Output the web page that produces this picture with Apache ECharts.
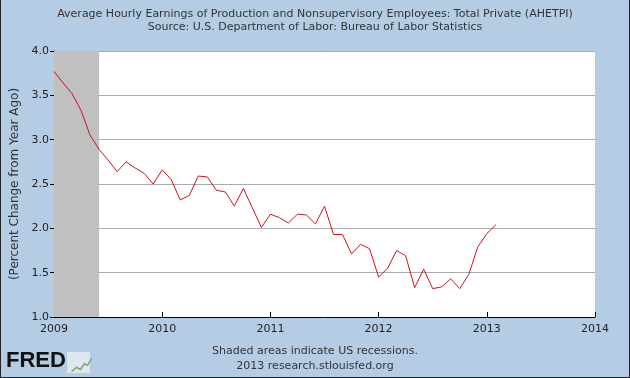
<!DOCTYPE html>
<html style="height: 100%">
<head>
    <meta charset="utf-8">
    <script src="https://cdn.jsdelivr.net/npm/echarts@6/dist/echarts.min.js"></script>
    <title>AHETPI</title>
</head>
<body style="height: 100%; margin: 0">
<div style="position: relative; width: 630px; height: 378px">
    <div id="container" style="width: 630px; height: 378px; background-color: #b5cde4"></div>
    <div style="position: absolute; left: 0; top: 0; width: 630px; height: 378px; box-sizing: border-box; border: 1px solid #222; border-top: none; pointer-events: none"></div>
</div>
<script type="text/javascript">

    // monthly values, Jan 2009 .. Feb 2013 (percent change from year ago)
    let startYear = 2009
    let values2009 = [3.77, 3.64, 3.52, 3.33, 3.05, 2.89, 2.77, 2.64, 2.75, 2.68, 2.62, 2.50]
    let values2010 = [2.66, 2.55, 2.32, 2.37, 2.59, 2.58, 2.43, 2.41, 2.25, 2.45, 2.23, 2.01]
    let values2011 = [2.16, 2.12, 2.06, 2.16, 2.15, 2.05, 2.25, 1.93, 1.93, 1.71, 1.82, 1.77]
    let values2012 = [1.45, 1.55, 1.75, 1.69, 1.33, 1.54, 1.32, 1.34, 1.43, 1.32, 1.48, 1.79]
    let values2013 = [1.94, 2.04]
    // recession: Jan 2009 .. Jun 2009
    let recessionStart = 2009
    let recessionEnd = 2009 + 5 / 12

    let allValues = [].concat(values2009, values2010, values2011, values2012, values2013)
    let lineData = allValues.map((v, i) => [startYear + i / 12, v])

    let dom = document.getElementById("container")
    let chart = echarts.init(dom)
    let font = "DejaVu Sans, Verdana, sans-serif"
    chart.setOption({
        backgroundColor: "#b5cde4",
        animation: false,
        title: {
            text: "Average Hourly Earnings of Production and Nonsupervisory Employees: Total Private (AHETPI)",
            subtext: "Source: U.S. Department of Labor: Bureau of Labor Statistics",
            left: "center",
            top: 4,
            itemGap: 2,
            textStyle: {fontFamily: font, fontSize: 11, fontWeight: "normal", color: "#333"},
            subtextStyle: {fontFamily: font, fontSize: 11, color: "#333"}
        },
        grid: {
            left: 54, right: 35, top: 51, bottom: 61,
            outerBoundsMode: "none", containLabel: false,
            backgroundColor: "#fff", show: true, borderWidth: 0
        },
        xAxis: {
            type: "value",
            min: 2009,
            max: 2014,
            interval: 1,
            axisLine: {lineStyle: {color: "#000", width: 1}},
            axisTick: {inside: true, length: 5, lineStyle: {color: "#000"}},
            axisLabel: {fontFamily: font, fontSize: 11, color: "#222", margin: 7, formatter: v => String(v)},
            splitLine: {show: false}
        },
        yAxis: {
            type: "value",
            min: 1,
            max: 4,
            interval: 0.5,
            name: "(Percent Change from Year Ago)",
            nameLocation: "middle",
            nameGap: 31,
            nameTextStyle: {fontFamily: font, fontSize: 12, color: "#333"},
            axisLine: {show: true, lineStyle: {color: "#000", width: 1}},
            axisTick: {show: true, length: 4, lineStyle: {color: "#000"}},
            axisLabel: {fontFamily: font, fontSize: 11, color: "#222", margin: 5, formatter: v => v.toFixed(1)},
            splitLine: {lineStyle: {color: "#aaa", width: 1}}
        },
        series: [{
            type: "line",
            data: lineData,
            symbol: "none",
            lineStyle: {color: "#cc1122", width: 1},
            markArea: {
                silent: true,
                itemStyle: {color: "#c0c0c0"},
                data: [[{xAxis: recessionStart}, {xAxis: recessionEnd}]]
            }
        }],
        graphic: [
            {
                type: "text", left: "center", top: 346,
                style: {text: "Shaded areas indicate US recessions.", font: "11px " + font, fill: "#333", textAlign: "center"}
            },
            {
                type: "text", left: "center", top: 361,
                style: {text: "2013 research.stlouisfed.org", font: "11px " + font, fill: "#333", textAlign: "center"}
            },
            {
                type: "text", left: 6, top: 350,
                style: {text: "FRED", font: "bold 22px Liberation Sans, Arial, sans-serif", fill: "#111"}
            },
            {
                type: "rect", left: 67, top: 352, shape: {width: 23, height: 21},
                style: {fill: "#dfe6ee"}
            },
            {
                type: "polyline", left: 69, top: 356,
                shape: {points: [[0, 14], [5, 10], [9, 12], [13, 6], [16, 8], [20, 1]]},
                style: {stroke: "#7aa86a", fill: null, lineWidth: 1.5}
            }
        ]
    }, true)

</script>
</body>
</html>
